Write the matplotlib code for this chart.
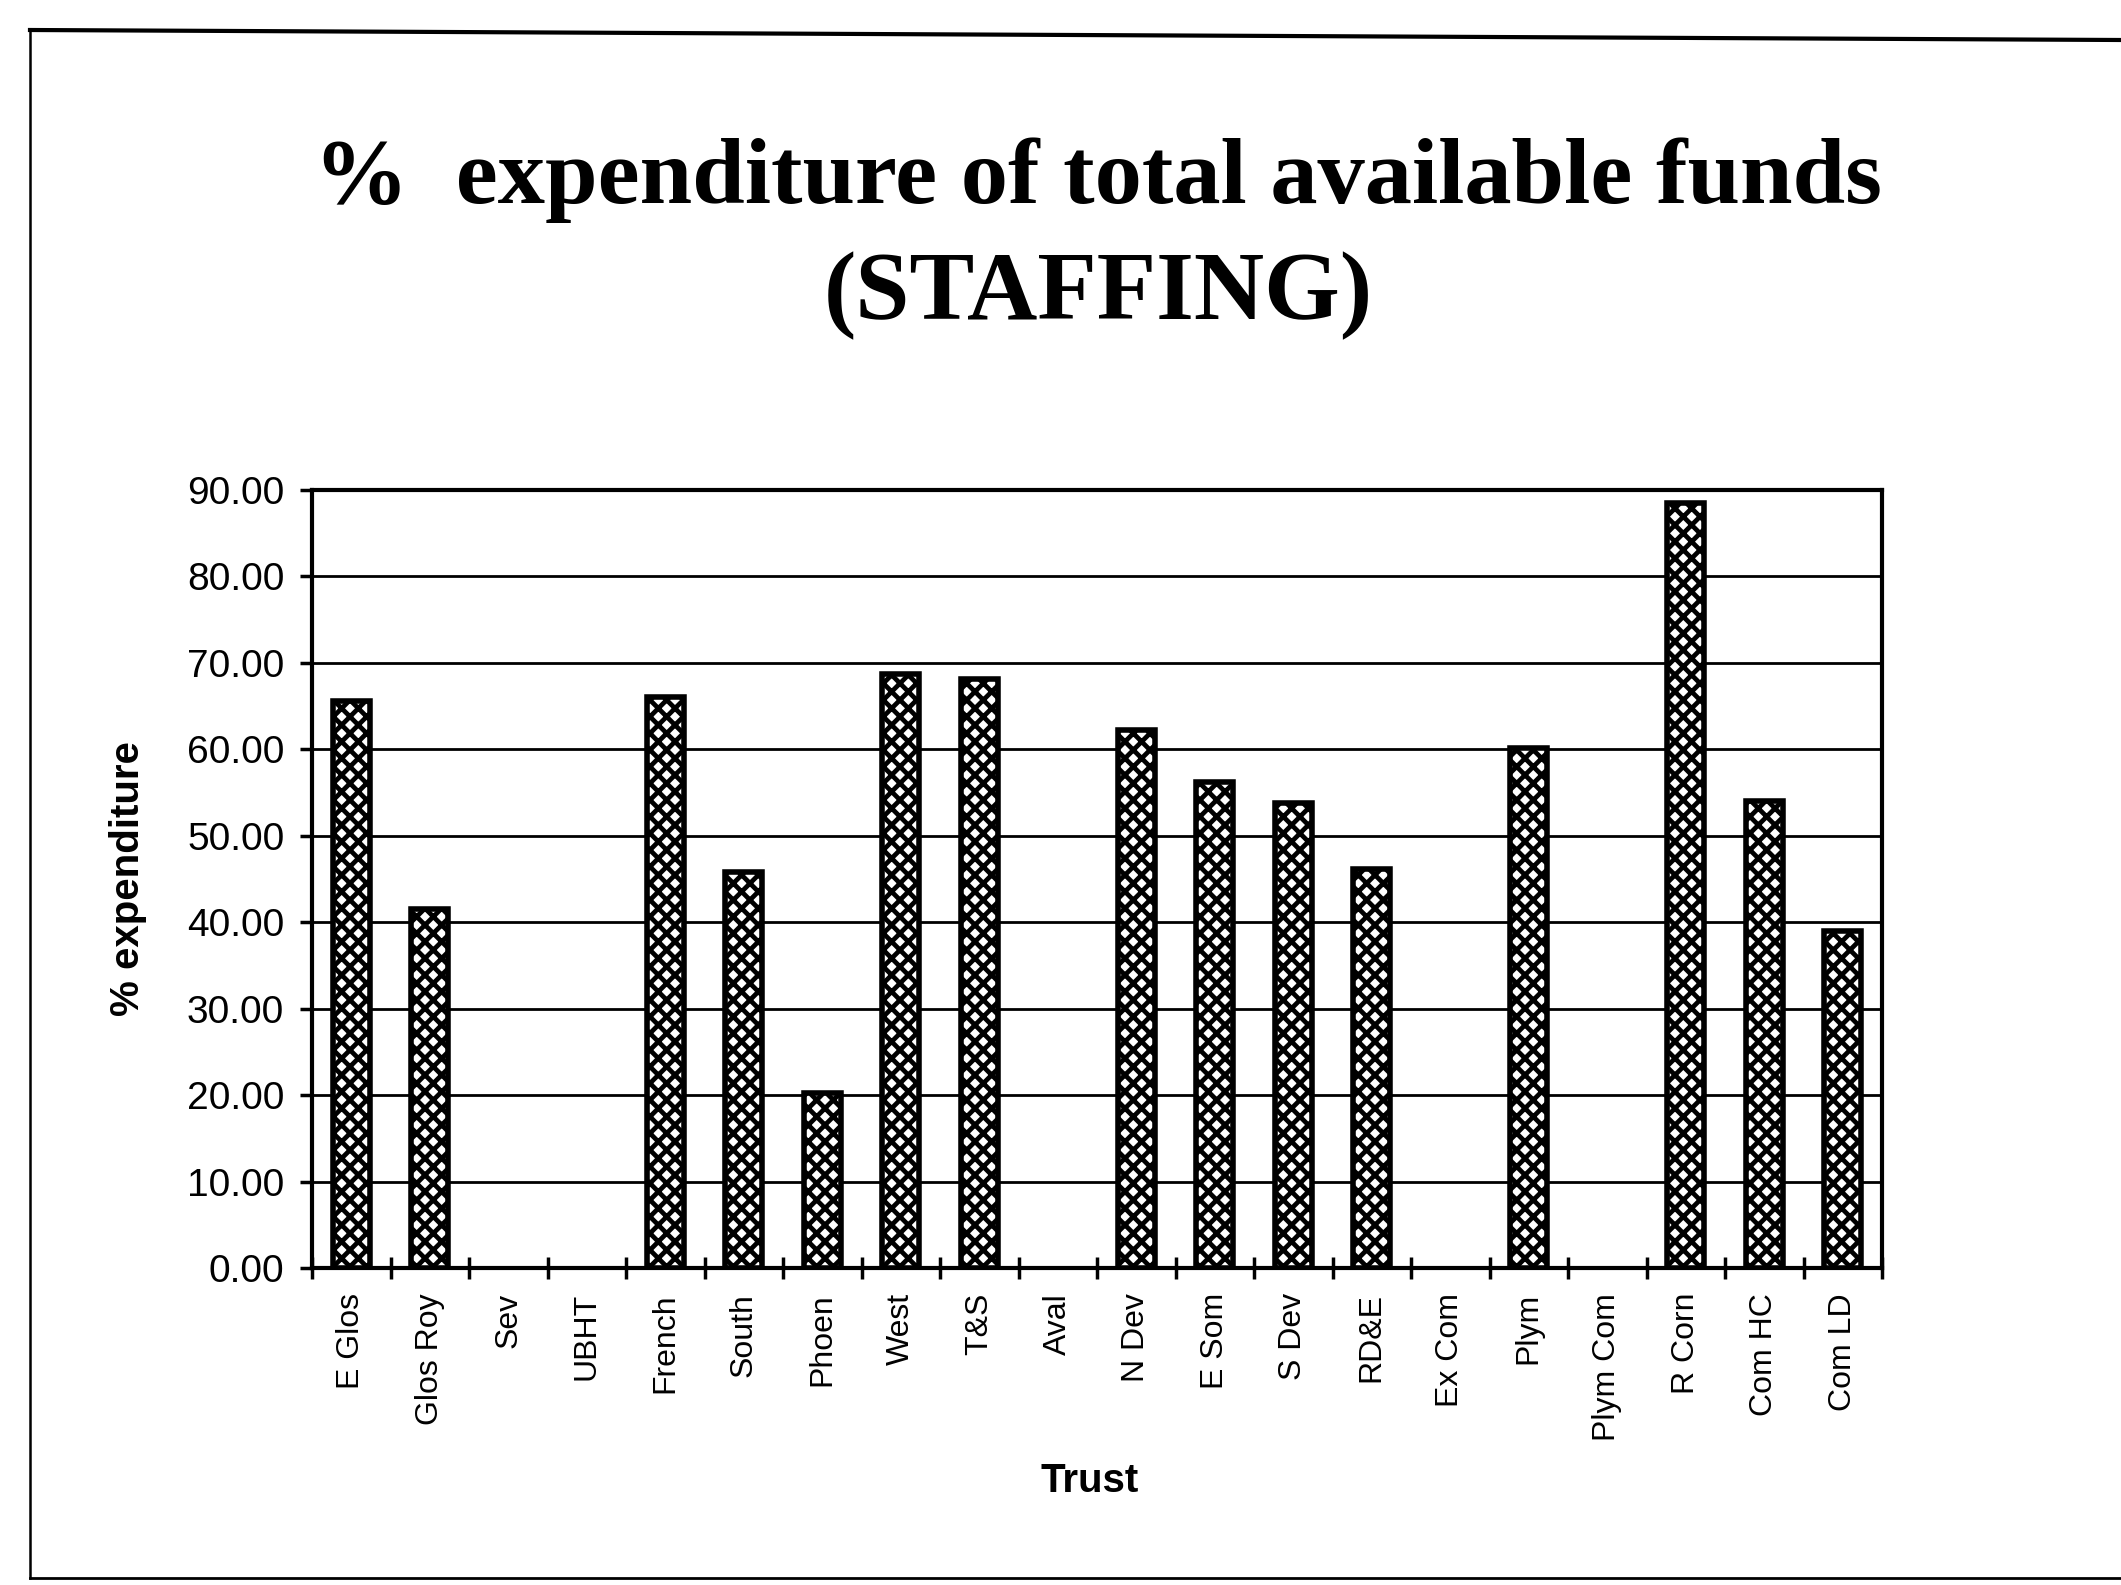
import numpy as np
import matplotlib
matplotlib.use("Agg")
import matplotlib.pyplot as plt
from matplotlib.lines import Line2D

trusts = ["E Glos", "Glos Roy", "Sev", "UBHT", "French", "South", "Phoen", "West",
          "T&S", "Aval", "N Dev", "E Som", "S Dev", "RD&E", "Ex Com", "Plym",
          "Plym Com", "R Corn", "Com HC", "Com LD"]
pct_expenditure = [65.6, 41.5, 0, 0, 66.0, 45.8, 20.3, 68.7, 68.1, 0, 62.2, 56.2,
                   53.8, 46.2, 0, 60.2, 0, 88.5, 54.0, 39.0]
y_ticks = [0, 10, 20, 30, 40, 50, 60, 70, 80, 90]

W, H = 2121, 1585
plt.rcParams['hatch.linewidth'] = 3.4
fig = plt.figure(figsize=(W / 100, H / 100), dpi=100)
fig.patch.set_facecolor("white")

ax = fig.add_axes([312 / W, 1 - 1268 / H, (1882 - 312) / W, (1268 - 490) / H])

x = np.arange(len(trusts))
vals = np.array(pct_expenditure)
nz = vals > 0
ax.bar(x[nz], vals[nz], width=0.47, color="white", edgecolor="black",
       hatch="xx", linewidth=4, zorder=3)

ax.set_xlim(-0.5, len(trusts) - 0.5)
ax.set_ylim(0, 90)
ax.set_yticks(y_ticks)
ax.set_yticklabels([f"{v:.2f}" for v in y_ticks], fontsize=28, family="Liberation Sans")
ax.set_xticks(x)
ax.set_xticklabels(trusts, rotation=90, fontsize=23, family="Liberation Sans",
                   va="top", ha="center")
ax.set_xticks(np.arange(-0.5, len(trusts), 1), minor=True)

ax.tick_params(axis="x", which="major", length=0, pad=18)
ax.tick_params(axis="x", which="minor", direction="inout", length=16, width=2.5)
ax.tick_params(axis="y", which="major", direction="out", length=9, width=2.5, pad=11)

ax.yaxis.grid(True, color="black", linewidth=2.0, zorder=1)
ax.set_axisbelow(True)
for s in ax.spines.values():
    s.set_linewidth(3)
    s.set_color("black")

ax.text(-0.117, 0.5, "% expenditure", transform=ax.transAxes, rotation=90,
        ha="center", va="center", fontsize=29, fontweight="bold",
        family="Liberation Sans")
ax.text(0.495, -0.25, "Trust", transform=ax.transAxes, ha="center", va="top",
        fontsize=29, fontweight="bold", family="Liberation Sans")

fig.text(1098 / W, 1 - 180 / H, "%  expenditure of total available funds",
         ha="center", va="center", fontsize=68, fontweight="bold",
         family="Liberation Serif")
fig.text(1098 / W, 1 - 296 / H, "(STAFFING)", ha="center", va="center",
         fontsize=70, fontweight="bold", family="Liberation Serif")

# scanned page frame
def px(xp, yp):
    return xp / W, 1 - yp / H
x0, y0 = px(30, 30)
x1, y1 = px(2121, 40)
fig.add_artist(Line2D([x0, x1], [y0, y1], color="black", lw=3))
x2, y2 = px(30, 1578)
fig.add_artist(Line2D([x0, x2], [y0, y2], color="black", lw=1.8))
x3, y3 = px(2121, 1578)
fig.add_artist(Line2D([x2, x3], [y2, y3], color="black", lw=2))

fig.savefig("out.png", dpi=100, facecolor="white")
